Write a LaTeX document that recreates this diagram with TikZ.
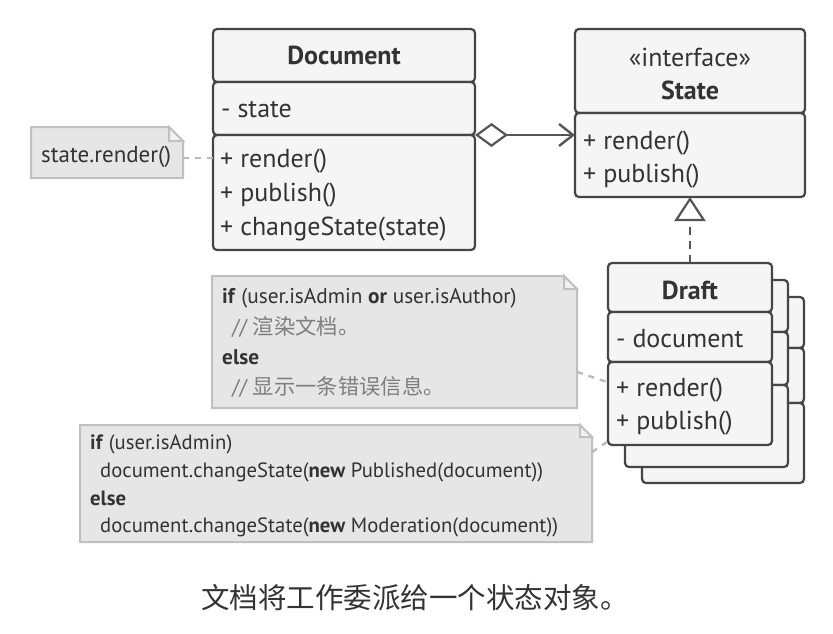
\documentclass[tikz,border=0pt]{standalone}
\usepackage{fontspec}
\setmainfont{PT Sans}
\newfontfamily\cjk{Noto Sans CJK SC}
\usetikzlibrary{arrows.meta}
\definecolor{boxfill}{HTML}{F5F5F5}
\definecolor{boxline}{HTML}{454545}
\definecolor{txt}{HTML}{333333}
\definecolor{notefill}{HTML}{E6E6E6}
\definecolor{foldfill}{HTML}{F2F2F2}
\definecolor{noteline}{HTML}{C0C0C0}
\definecolor{cmt}{HTML}{7E7E7E}
\definecolor{conn}{HTML}{555555}
\definecolor{nconn}{HTML}{BBBBBB}
\tikzset{
  cell/.style={draw=boxline, fill=boxfill, line width=2.2pt, rounded corners=4pt,
    anchor=north west, inner sep=0pt, outer sep=0pt},
  area/.style={anchor=north west, inner sep=0pt, outer sep=0pt, draw=none},
  boxtxt/.style={inner sep=0pt, text=txt, font=\fontsize{26}{30}\selectfont},
  ntxt/.style={inner sep=0pt, text=txt, anchor=base west, font=\fontsize{21.3}{24}\selectfont},
  ntxtb/.style={inner sep=0pt, text=txt, anchor=base west, font=\fontsize{20.7}{24}\selectfont},
  noteline/.style={draw=noteline, line width=2pt, fill=notefill, line join=miter},
  foldline/.style={draw=noteline, line width=2pt, fill=foldfill, line join=miter},
  noteconn/.style={draw=nconn, line width=2.4pt, dash pattern=on 6pt off 6pt},
}
\newcommand{\drawnote}[2]{%
  \path[noteline] (#1.north west) -- ([xshift=-#2pt]#1.north east) -- ([yshift=-#2pt]#1.north east)
    -- (#1.south east) -- (#1.south west) -- cycle;
  \path[foldline] ([xshift=-#2pt]#1.north east) -- ([xshift=-#2pt,yshift=-#2pt]#1.north east)
    -- ([yshift=-#2pt]#1.north east) -- cycle;}
\begin{document}
\begin{tikzpicture}[x=1pt,y=-1pt]
\useasboundingbox[fill=white] (0,0) rectangle (833,633);

% ---- Document class
\node[cell, minimum width=262pt, minimum height=53pt] (doc1) at (213,29) {};
\node[cell, minimum width=262pt, minimum height=53pt] (doc2) at (213,82) {};
\node[cell, minimum width=262pt, minimum height=115pt] (doc3) at (213,135) {};
\node[boxtxt, anchor=base] (doct) at (344,64) {\bfseries Document};
\node[boxtxt, anchor=base west] (doca) at (221,117) {- state};
\node[boxtxt, anchor=base west] (docm1) at (220,167) {+ render()};
\node[boxtxt, anchor=base west] (docm2) at (220,201) {+ publish()};
\node[boxtxt, anchor=base west] (docm3) at (220,235) {+ changeState(state)};

% ---- State interface
\node[cell, minimum width=230pt, minimum height=84pt] (st1) at (575,29) {};
\node[cell, minimum width=230pt, minimum height=84pt] (st2) at (575,113) {};
\node[boxtxt, anchor=base] (sts) at (690,66) {«interface»};
\node[boxtxt, anchor=base] (stt) at (690,99) {\bfseries State};
\node[boxtxt, anchor=base west] (stm1) at (583,149) {+ render()};
\node[boxtxt, anchor=base west] (stm2) at (583,182) {+ publish()};

% ---- Draft stack (back to front)
\node[cell, minimum width=162pt, minimum height=51pt] (dc1) at (642,297) {};
\node[cell, minimum width=162pt, minimum height=55pt] (dc2) at (642,348) {};
\node[cell, minimum width=162pt, minimum height=80pt] (dc3) at (642,403) {};
\node[cell, minimum width=163pt, minimum height=52pt] (db1) at (625,280) {};
\node[cell, minimum width=163pt, minimum height=53pt] (db2) at (625,332) {};
\node[cell, minimum width=163pt, minimum height=82pt] (db3) at (625,385) {};
\node[cell, minimum width=164pt, minimum height=49pt] (da1) at (608,263) {};
\node[cell, minimum width=164pt, minimum height=50pt] (da2) at (608,312) {};
\node[cell, minimum width=164pt, minimum height=83pt] (da3) at (608,362) {};
\node[boxtxt, anchor=base] (dat) at (690,299) {\bfseries Draft};
\node[boxtxt, anchor=base west] (daa) at (616,347) {- document};
\node[boxtxt, anchor=base west] (dam1) at (616,396) {+ render()};
\node[boxtxt, anchor=base west] (dam2) at (616,429) {+ publish()};

% ---- Notes
\node[area, minimum width=152pt, minimum height=51pt] (n0) at (31,127) {};
\drawnote{n0}{14}
\node[ntxt, font=\fontsize{23}{26}\selectfont] (n0t) at (41,162) {state.render()};

\node[area, minimum width=365pt, minimum height=132pt] (n1) at (212,276) {};
\drawnote{n1}{13}
\node[ntxt] (n1a) at (222,303) {\textbf{if} (user.isAdmin \textbf{or} user.isAuthor)};
\node[ntxt, text=cmt] (n1b) at (232,334) {// {\cjk 渲染文档。}};
\node[ntxt] (n1c) at (222,364) {\textbf{else}};
\node[ntxt, text=cmt] (n1d) at (232,394) {// {\cjk 显示一条错误信息。}};

\node[area, minimum width=512pt, minimum height=117pt] (n2) at (80,425) {};
\drawnote{n2}{12}
\node[ntxtb] (n2a) at (90,449) {\textbf{if} (user.isAdmin)};
\node[ntxtb] (n2b) at (100,477) {document.changeState(\textbf{new} Published(document))};
\node[ntxtb] (n2c) at (90,505) {\textbf{else}};
\node[ntxtb] (n2d) at (100,532) {document.changeState(\textbf{new} Moderation(document))};

% ---- Connectors
\coordinate (n0e) at (183,158);
\draw[noteconn] (n0e) -- (n0e -| doc3.west);
\coordinate (n1e) at (577,372);
\coordinate (da3w) at (607,382);
\draw[noteconn] (n1e) -- (da3w);
\coordinate (n2e) at (592,452);
\coordinate (da3b) at (607,442);
\draw[noteconn] (n2e) -- (da3b);

\draw[conn, line width=2.4pt,
  {Diamond[open, length=33pt, width=24pt, line width=2.2pt]}-{Straight Barb[length=14pt, width=22pt, line width=2.4pt]}]
  (doc2.south east) -- (doc2.south east -| st2.west);

\draw[conn, line width=2.4pt, dash pattern=on 8pt off 6pt,
  -{Triangle[open, length=24pt, width=31pt, line width=2.2pt]}]
  (da1.north) -- (st2.south);

% ---- Caption
\node[inner sep=0pt, text=txt, anchor=base, font=\cjk\fontsize{28.5}{32}\selectfont] (cap) at (415,608) {文档将工作委派给一个状态对象。};
\end{tikzpicture}
\end{document}
